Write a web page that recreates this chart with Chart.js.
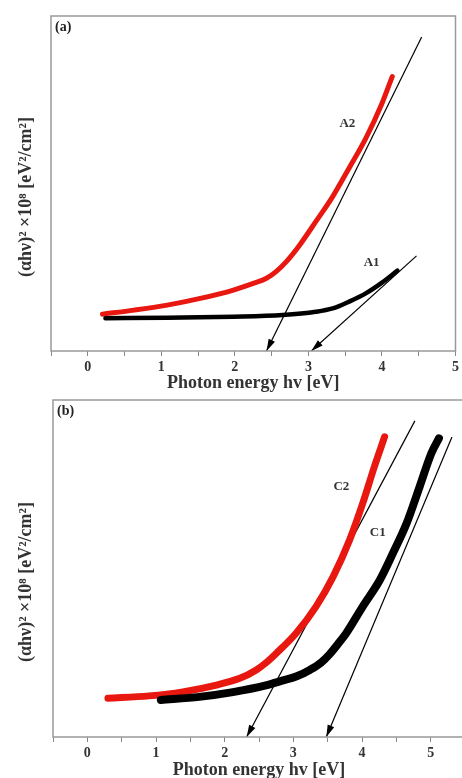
<!DOCTYPE html>
<html>
<head>
<meta charset="utf-8">
<script src="https://cdn.jsdelivr.net/npm/chart.js@4/dist/chart.umd.min.js"></script>
<style>
  html, body { margin: 0; padding: 0; background: #fff; overflow: hidden; }
  #wrap { position: relative; width: 462px; height: 778px; overflow: hidden; }
  #chartA { position: absolute; left: 0; top: 0; }
  #chartB { position: absolute; left: 0; top: 390px; }
</style>
</head>
<body>
<div id="wrap">
  <canvas id="chartA" width="462" height="394"></canvas>
  <canvas id="chartB" width="470" height="391"></canvas>
</div>
<script>
// panel (a)
const a2_x = [0.2, 0.63, 1.08, 1.53, 1.98, 2.25, 2.43, 2.56, 2.7, 2.88, 3.1, 3.33, 3.55, 3.78, 4.0, 4.14];
const a2_y = [11.0, 12.2, 13.7, 15.7, 18.2, 20.2, 21.7, 23.7, 26.7, 31.6, 38.6, 46.1, 54.5, 63.5, 73.9, 81.9];
const a1_x = [0.24, 1.08, 1.98, 2.65, 3.1, 3.33, 3.55, 3.78, 4.0, 4.21];
const a1_y = [9.75, 9.95, 10.25, 10.75, 11.7, 12.7, 14.7, 17.2, 20.4, 24.0];
const a2_fit_x = [4.54, 2.43];
const a2_fit_y = [93.7, 0];
const a1_fit_x = [4.47, 3.04];
const a1_fit_y = [28.4, 0];

// panel (b)
const c2_x = [0.3, 0.9, 1.39, 1.88, 2.22, 2.46, 2.6, 2.75, 3.04, 3.33, 3.58, 3.82, 4.01, 4.18, 4.33];
const c2_y = [11.5, 12.2, 13.4, 15.4, 17.4, 19.9, 22.0, 24.8, 30.8, 38.7, 47.6, 58.5, 69.3, 80.2, 89.1];
const c1_x = [1.07, 1.63, 2.12, 2.6, 2.85, 3.05, 3.24, 3.4, 3.53, 3.65, 3.77, 4.01, 4.26, 4.45, 4.65, 4.84, 5.01, 5.12];
const c1_y = [11.0, 11.9, 13.3, 15.3, 16.8, 18.0, 19.9, 22.0, 24.6, 27.6, 30.8, 38.7, 46.6, 54.5, 63.4, 74.3, 84.2, 88.6];
const c2_fit_x = [4.77, 2.32];
const c2_fit_y = [93.8, 0];
const c1_fit_x = [5.31, 3.48];
const c1_fit_y = [89, 0];

const labelsA = [["A2", 3.53, 68], ["A1", 3.86, 26.3]];
const labelsB = [["C2", 3.70, 74.2], ["C1", 4.23, 60.5]];

const xTitle = "Photon energy hv [eV]";
const yTitle = "(\u03b1h\u03bd)\u00b2 \u00d710\u2078 [eV\u00b2/cm\u00b2]\u2002\u2002\u2002";
const serif = "'Liberation Serif', 'DejaVu Serif', serif";
const red = "#e8170f";

const pts = (xs, ys) => xs.map((x, i) => ({ x: x, y: ys[i] }));

const curve = (xs, ys, color, width) => ({
  data: pts(xs, ys),
  borderColor: color,
  borderWidth: width,
  pointRadius: 0,
  cubicInterpolationMode: "monotone",
  borderCapStyle: "round",
  borderJoinStyle: "round",
});

const fitLine = (xs, ys) => ({
  data: pts(xs, ys),
  borderColor: "#000",
  borderWidth: 1.2,
  pointRadius: 0,
  tension: 0,
  arrow: true,
});

// box around the plot, arrow heads, curve labels
const decorations = {
  id: "decorations",
  afterDatasetsDraw(chart, args, opts) {
    const ctx = chart.ctx;
    const area = chart.chartArea;
    const xs = chart.scales.x, ys = chart.scales.y;
    ctx.save();
    chart.data.datasets.forEach((ds) => {
      if (!ds.arrow) return;
      const p = ds.data;
      const x1 = xs.getPixelForValue(p[0].x), y1 = ys.getPixelForValue(p[0].y);
      const x2 = xs.getPixelForValue(p[1].x), y2 = ys.getPixelForValue(p[1].y);
      const ang = Math.atan2(y2 - y1, x2 - x1);
      const len = 12, half = 3.5;
      ctx.fillStyle = "#000";
      ctx.beginPath();
      ctx.moveTo(x2, y2);
      ctx.lineTo(x2 - len * Math.cos(ang) + half * Math.sin(ang), y2 - len * Math.sin(ang) - half * Math.cos(ang));
      ctx.lineTo(x2 - len * Math.cos(ang) - half * Math.sin(ang), y2 - len * Math.sin(ang) + half * Math.cos(ang));
      ctx.closePath();
      ctx.fill();
    });
    ctx.fillStyle = "#333";
    ctx.font = "bold 13px " + serif;
    ctx.textAlign = "center";
    ctx.textBaseline = "middle";
    opts.labels.forEach(([t, x, y]) => {
      ctx.fillText(t, xs.getPixelForValue(x), ys.getPixelForValue(y));
    });
    ctx.textAlign = "left";
    ctx.font = "bold 14px " + serif;
    ctx.fillStyle = "#222";
    ctx.fillText(opts.panel, area.left + 4, area.top + 11);
    ctx.strokeStyle = "#999";
    ctx.lineWidth = 1.5;
    ctx.strokeRect(area.left, area.top, area.right - area.left, area.bottom - area.top);
    ctx.restore();
  },
};

function makeChart(id, datasets, xMax, axisH, axisW, pad, labels, panel) {
  return new Chart(document.getElementById(id), {
    type: "line",
    data: { datasets: datasets },
    options: {
      responsive: false,
      animation: false,
      layout: { padding: pad },
      plugins: {
        legend: { display: false },
        tooltip: { enabled: false },
        decorations: { labels: labels, panel: panel },
      },
      scales: {
        x: {
          type: "linear",
          min: -0.5,
          max: xMax,
          afterFit: (s) => { s.height = axisH; },
          ticks: {
            stepSize: 0.5,
            autoSkip: false,
            maxRotation: 0,
            padding: 3,
            color: "#333",
            font: { family: serif, size: 14, weight: "bold" },
            callback: (v) => (Number.isInteger(v) ? String(v) : ""),
          },
          grid: { drawOnChartArea: false, tickLength: 5, color: "#888" },
          border: { display: false },
          title: {
            display: true,
            text: xTitle,
            color: "#333",
            font: { family: serif, size: 18, weight: "bold" },
            padding: { top: 0, bottom: 0 },
          },
        },
        y: {
          type: "linear",
          min: 0,
          max: 100,
          afterFit: (s) => { s.width = axisW; },
          ticks: { display: false },
          grid: { display: false },
          border: { display: false },
          title: {
            display: true,
            text: yTitle,
            color: "#333",
            font: { family: serif, size: 18, weight: "bold" },
            padding: { top: 16, bottom: 0 },
          },
        },
      },
    },
    plugins: [decorations],
  });
}

makeChart("chartA", [
  curve(a1_x, a1_y, "#000", 4.5),
  curve(a2_x, a2_y, red, 5),
  fitLine(a2_fit_x, a2_fit_y),
  fitLine(a1_fit_x, a1_fit_y),
], 5, 43, 51, { top: 16, right: 5, left: 0, bottom: 0 }, labelsA, "(a)");

makeChart("chartB", [
  curve(c1_x, c1_y, "#000", 8),
  curve(c2_x, c2_y, red, 7),
  fitLine(c2_fit_x, c2_fit_y),
  fitLine(c1_fit_x, c1_fit_y),
], 5.5, 44, 53, { top: 10, right: 5, left: 0, bottom: 0 }, labelsB, "(b)");
</script>
</body>
</html>
